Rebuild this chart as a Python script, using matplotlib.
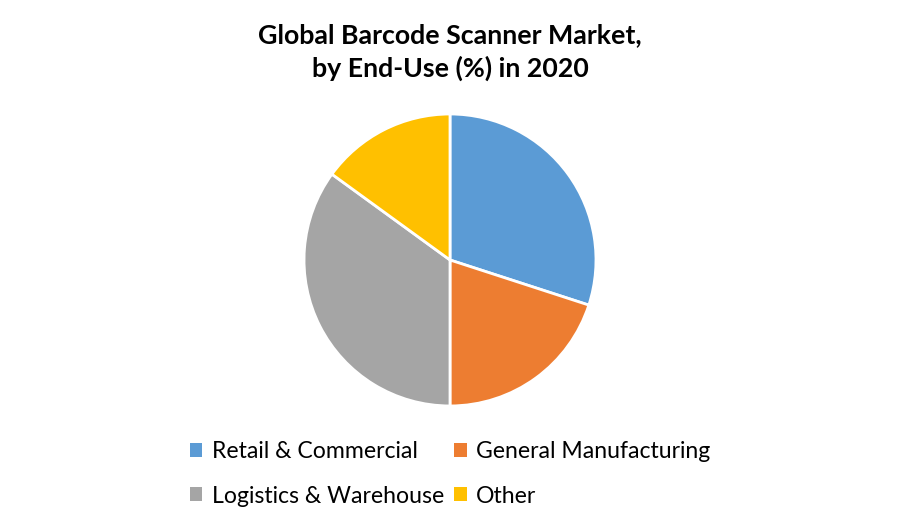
import matplotlib
matplotlib.use("Agg")
import matplotlib.pyplot as plt
from matplotlib.patches import Patch

# data
labels = ["Retail & Commercial", "General Manufacturing",
          "Logistics & Warehouse", "Other"]
shares = [30, 20, 35, 15]
colors = ["#5B9BD5", "#ED7D31", "#A5A5A5", "#FFC000"]

plt.rcParams['font.family'] = ['Lato', 'DejaVu Sans']

fig = plt.figure(figsize=(9, 5.25), dpi=100)
ax = fig.add_axes([0.3378, 0.2267, 0.3244, 0.5562])

ax.pie(shares, colors=colors, startangle=90, counterclock=False, radius=1,
       wedgeprops=dict(edgecolor="white", linewidth=2))
ax.set_xlim(-1, 1)
ax.set_ylim(-1, 1)
ax.set_aspect("equal")

fig.text(0.5, 0.9, "Global Barcode Scanner Market,\nby End-Use (%) in 2020",
         ha="center", va="center", fontsize=19.3, fontweight="bold",
         linespacing=1.4)

# legend fills by column, so reorder to get the rows as in the picture
order = [0, 2, 1, 3]
handles = [Patch(facecolor=colors[i], edgecolor="none") for i in order]
fig.legend(handles, [labels[i] for i in order], ncol=2, loc="center",
           bbox_to_anchor=(0.5, 1 - 474 / 525), frameon=False,
           fontsize=16.6, handlelength=0.55, handleheight=0.55,
           handletextpad=0.4, columnspacing=0.45, labelspacing=1.0)

fig.savefig("out.png", dpi=100)
